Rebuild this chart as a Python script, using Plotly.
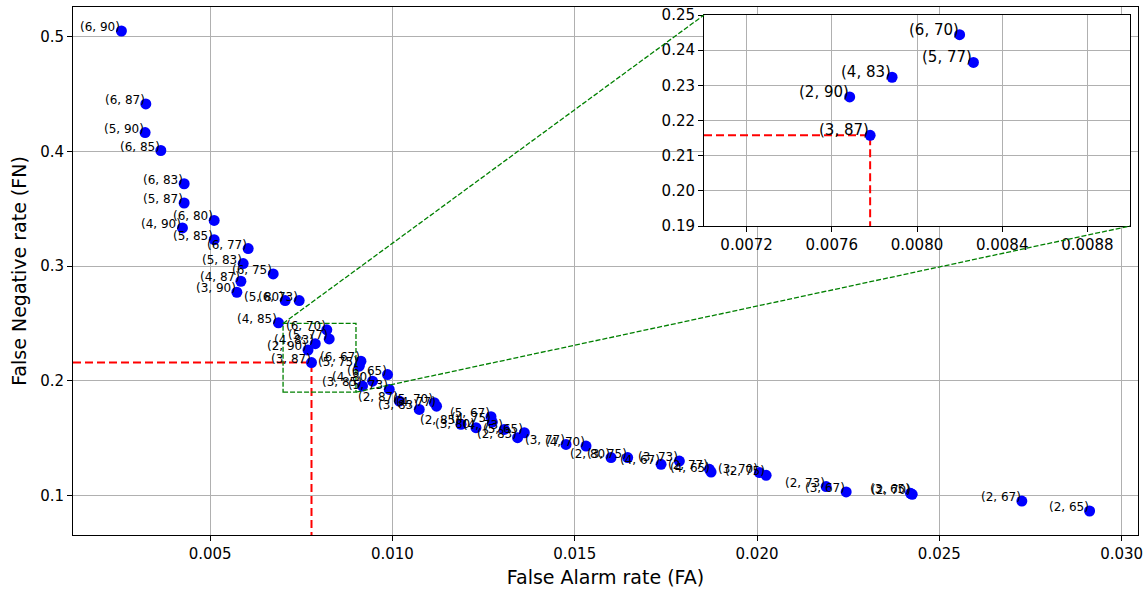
import plotly.graph_objects as go
import numpy as np

# (k, t) parameter pairs and their measured rates
k_vals = [6, 6, 5, 6, 6, 5, 6, 4, 5, 6, 5, 6, 4, 3, 5, 6, 4,
          6, 5, 4, 2, 3,
          6, 5, 6, 4, 3, 5, 2, 5, 4, 3, 2, 3, 5, 4, 4, 5, 2,
          3, 4, 2, 3, 4, 3, 2, 4, 3, 2, 2, 3, 2, 3, 2, 2]
t_vals = [90, 87, 90, 85, 83, 87, 80, 90, 85, 77, 83, 75, 87, 90, 80, 73, 85,
          70, 77, 83, 90, 87,
          67, 75, 65, 80, 85, 73, 87, 70, 77, 83, 85, 80, 67, 75, 73, 65, 83,
          77, 70, 80, 75, 67, 73, 77, 65, 70, 75, 73, 67, 70, 65, 67, 65]
fa = [0.002566, 0.003235, 0.003216, 0.003647, 0.004287, 0.004287, 0.005110, 0.004240,
      0.005110, 0.006043, 0.005906, 0.006729, 0.005843, 0.005733, 0.007058, 0.007442,
      0.006874,
      0.008200, 0.008265, 0.007883, 0.007684, 0.007780,
      0.009136, 0.009089, 0.009865, 0.009454, 0.009179, 0.009912, 0.010187, 0.011147,
      0.011210, 0.010735, 0.011880, 0.012291, 0.012703, 0.012739, 0.013068, 0.013617,
      0.013433,
      0.014761, 0.015310, 0.015996, 0.016452, 0.017368, 0.017870, 0.018694, 0.018740,
      0.020066, 0.020250, 0.021896, 0.022445, 0.024256, 0.024210, 0.027264, 0.029122]
fn = [0.5052, 0.4416, 0.4166, 0.4009, 0.3719, 0.3551, 0.3399, 0.3333,
      0.3231, 0.3153, 0.3022, 0.2932, 0.2868, 0.2772, 0.2699, 0.2699,
      0.2505,
      0.2444, 0.2365, 0.2323, 0.2267, 0.2158,
      0.2170, 0.2127, 0.2054, 0.1996, 0.1953, 0.1924, 0.1822, 0.1808,
      0.1778, 0.1749, 0.1619, 0.1590, 0.1686, 0.1639, 0.1575, 0.1546,
      0.1503,
      0.1444, 0.1430, 0.1329, 0.1329, 0.1270, 0.1299, 0.1227, 0.1203,
      0.1198, 0.1174, 0.1076, 0.1029, 0.1009, 0.1017, 0.0950, 0.0863]

labels = [f"({k}, {t})" for k, t in zip(k_vals, t_vals)]
best_k, best_t = 3, 87

x_ticks = [0.005, 0.010, 0.015, 0.020, 0.025, 0.030]
y_ticks = [0.1, 0.2, 0.3, 0.4, 0.5]
zoom_x = [0.0070, 0.0090]
zoom_y = [0.19, 0.25]
inset_x_ticks = [0.0072, 0.0076, 0.0080, 0.0084, 0.0088]
inset_y_ticks = [0.19, 0.20, 0.21, 0.22, 0.23, 0.24, 0.25]

fa_a = np.array(fa)
fn_a = np.array(fn)
bi = [i for i, (k, t) in enumerate(zip(k_vals, t_vals)) if k == best_k and t == best_t][0]
best_fa, best_fn = fa[bi], fn[bi]

# axis ranges (matplotlib-style 5% margins)
xspan = fa_a.max() - fa_a.min()
yspan = fn_a.max() - fn_a.min()
x_range = [fa_a.min() - 0.05 * xspan, fa_a.max() + 0.05 * xspan]
y_range = [fn_a.min() - 0.05 * yspan, fn_a.max() + 0.05 * yspan]

FONT = "DejaVu Sans"
BLUE = "#0000ff"

fig = go.Figure()

# ---- main axes ----
fig.add_trace(go.Scatter(
    x=[x_range[0], best_fa, best_fa], y=[best_fn, best_fn, y_range[0]],
    mode="lines", line=dict(color="red", width=2, dash="8px,4px"),
    xaxis="x", yaxis="y", hoverinfo="skip", showlegend=False))
fig.add_trace(go.Scatter(
    x=fa, y=fn, mode="markers", marker=dict(color=BLUE, size=11),
    xaxis="x", yaxis="y", showlegend=False))

# ---- inset axes ----
mask = (fa_a >= zoom_x[0]) & (fa_a <= zoom_x[1]) & (fn_a >= zoom_y[0]) & (fn_a <= zoom_y[1])
ins_fa = fa_a[mask].tolist()
ins_fn = fn_a[mask].tolist()
ins_lab = [l for l, m in zip(labels, mask) if m]

fig.add_trace(go.Scatter(
    x=[zoom_x[0], best_fa, best_fa], y=[best_fn, best_fn, zoom_y[0]],
    mode="lines", line=dict(color="red", width=2, dash="8px,4px"),
    xaxis="x2", yaxis="y2", hoverinfo="skip", showlegend=False))
fig.add_trace(go.Scatter(
    x=ins_fa, y=ins_fn, mode="markers", marker=dict(color=BLUE, size=11),
    xaxis="x2", yaxis="y2", showlegend=False))

# point labels (text ends at the point, sitting just above it)
annotations = []
for x, y, lab in zip(fa, fn, labels):
    annotations.append(dict(x=x, y=y, xref="x", yref="y", text=lab, showarrow=False,
                            xanchor="right", yanchor="middle", xshift=1, yshift=4,
                            font=dict(size=12, color="black", family=FONT)))
for x, y, lab in zip(ins_fa, ins_fn, ins_lab):
    annotations.append(dict(x=x, y=y, xref="x2", yref="y2", text=lab, showarrow=False,
                            xanchor="right", yanchor="middle", xshift=1, yshift=5,
                            font=dict(size=15, color="black", family=FONT)))

W, H = 1146, 590
ML, MR, MT, MB = 73, 8, 7, 55
pw, ph = W - ML - MR, H - MT - MB
ins_px = [704, 1130]
ins_py = [15, 226]
ins_xdom = [(ins_px[0] - ML) / pw, (ins_px[1] - ML) / pw]
ins_ydom = [(H - MB - ins_py[1]) / ph, (H - MB - ins_py[0]) / ph]

def to_px(x):
    return (x - x_range[0]) / (x_range[1] - x_range[0])

def to_py(y):
    return (y - y_range[0]) / (y_range[1] - y_range[0])

shapes = [
    dict(type="rect", xref="x", yref="y", x0=zoom_x[0], x1=zoom_x[1], y0=zoom_y[0], y1=zoom_y[1],
         line=dict(color="green", width=1.3, dash="5px,2px"), layer="above"),
    dict(type="line", xref="paper", yref="paper",
         x0=to_px(zoom_x[0]), y0=to_py(zoom_y[1]), x1=ins_xdom[0], y1=ins_ydom[1],
         line=dict(color="green", width=1.3, dash="5px,2px"), layer="above"),
    dict(type="line", xref="paper", yref="paper",
         x0=to_px(zoom_x[1]), y0=to_py(zoom_y[0]), x1=ins_xdom[1], y1=ins_ydom[0],
         line=dict(color="green", width=1.3, dash="5px,2px"), layer="above"),
]

axis_common = dict(
    showgrid=True, gridcolor="#b0b0b0", gridwidth=1, zeroline=False,
    showline=True, linecolor="black", linewidth=1, mirror=True,
    ticks="outside", ticklen=5, tickcolor="black", tickwidth=1,
    tickfont=dict(family=FONT, size=15, color="black"),
    automargin=False,
)

fig.update_layout(
    width=W, height=H,
    margin=dict(l=ML, r=MR, t=MT, b=MB),
    paper_bgcolor="white", plot_bgcolor="white",
    showlegend=False,
    font=dict(family=FONT, color="black"),
    xaxis=dict(domain=[0, 1], range=x_range, tickvals=x_ticks,
               ticktext=[f"{v:.3f}" for v in x_ticks], anchor="y",
               title=dict(text="False Alarm rate (FA)", font=dict(size=19, family=FONT), standoff=8),
               **axis_common),
    yaxis=dict(domain=[0, 1], range=y_range, tickvals=y_ticks,
               ticktext=[f"{v:.1f}" for v in y_ticks], anchor="x",
               title=dict(text="False Negative rate (FN)", font=dict(size=19, family=FONT), standoff=8),
               **axis_common),
    xaxis2=dict(domain=ins_xdom, range=zoom_x, tickvals=inset_x_ticks,
                ticktext=[f"{v:.4f}" for v in inset_x_ticks], anchor="y2", **axis_common),
    yaxis2=dict(domain=ins_ydom, range=zoom_y, tickvals=inset_y_ticks,
                ticktext=[f"{v:.2f}" for v in inset_y_ticks], anchor="x2", **axis_common),
    shapes=shapes,
    annotations=annotations,
)

fig.write_html("out.html", config={"displayModeBar": False},
               post_script="document.body.style.margin='0px';")
